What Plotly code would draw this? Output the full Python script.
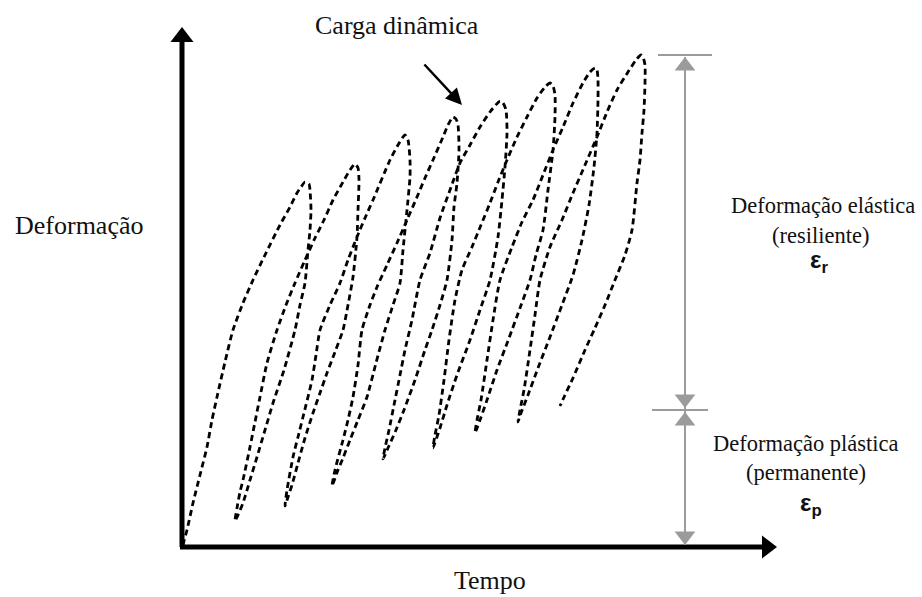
import plotly.graph_objects as go

# ---- dashed deformation curve (time, deformation), one loading / unloading branch per row ----
curve_time = [
    0, 1, 4, 10, 17, 24, 29, 34, 42, 50, 60, 70, 82, 97, 107, 114, 118, 122,
    126, 127, 128, 127, 125, 122, 117, 112, 101, 90, 82, 74, 67, 60, 55, 52,
    54, 57, 60, 67, 72, 77, 84, 94, 103, 112, 122, 132, 141, 150, 160, 167, 172,
    175, 176, 175, 174, 170, 165, 160, 152, 144, 137, 130, 122, 115, 109, 105, 102,
    104, 110, 115, 120, 129, 133, 137, 147, 157, 165, 174, 182, 190, 207, 215, 222,
    225, 227, 227, 224, 220, 217, 210, 202, 193, 184, 175, 167, 160, 155, 149,
    152, 160, 165, 170, 175, 179, 187, 194, 204, 214, 224, 234, 242, 250, 260, 265, 270,
    273, 275, 276, 274, 271, 269, 264, 257, 249, 242, 232, 221, 213, 205, 200,
    202, 206, 212, 217, 222, 229, 237, 247, 257, 267, 277, 287, 297, 307, 317,
    320, 323, 324, 322, 319, 315, 307, 297, 287, 274, 264, 257, 250,
    252, 256, 261, 266, 272, 279, 289, 298, 307, 315, 324, 334, 344, 354, 362, 367,
    370, 372, 372, 370, 365, 360, 353, 347, 337, 326, 314, 304, 297, 292,
    294, 298, 304, 310, 317, 329, 339, 350, 360, 370, 380, 390, 400, 407, 412,
    414, 415, 415, 414, 411, 406, 399, 390, 379, 367, 355, 345, 338, 335,
    337, 341, 347, 352, 357, 367, 379, 390, 402, 414, 424, 434, 445, 453, 458,
    460, 462, 462, 461, 459, 457, 454, 449, 442, 432, 422, 412, 402, 390, 382, 377,
]
curve_deformation = [
    1, 5, 16, 43, 71, 99, 126, 149, 184, 216, 243, 266, 291, 321, 339, 353, 359, 364,
    362, 356, 336, 316, 296, 263, 241, 216, 176, 143, 116, 89, 66, 43, 31, 25,
    38, 54, 66, 99, 124, 149, 183, 216, 241, 263, 286, 308, 326, 346, 364, 376, 382,
    378, 366, 336, 309, 269, 241, 216, 194, 173, 153, 133, 108, 83, 61, 49, 40,
    56, 89, 109, 129, 166, 191, 216, 241, 263, 286, 309, 328, 346, 386, 401, 411,
    406, 386, 369, 336, 296, 263, 241, 216, 183, 149, 126, 106, 88, 76, 60,
    76, 106, 126, 149, 181, 216, 241, 259, 281, 303, 326, 349, 368, 386, 409, 421, 429,
    427, 421, 396, 363, 339, 306, 266, 241, 216, 196, 166, 136, 116, 98, 87,
    98, 116, 146, 171, 196, 226, 266, 293, 328, 356, 383, 401, 419, 434, 445,
    443, 436, 413, 379, 346, 309, 266, 236, 206, 171, 141, 118, 98,
    111, 131, 166, 206, 246, 276, 299, 321, 343, 364, 386, 409, 429, 448, 459, 463,
    460, 451, 429, 396, 356, 316, 291, 266, 238, 208, 176, 146, 126, 113,
    126, 146, 186, 226, 266, 299, 324, 346, 371, 396, 419, 443, 463, 474, 478,
    476, 466, 446, 413, 379, 341, 306, 271, 241, 209, 178, 151, 133, 124,
    136, 156, 196, 231, 266, 299, 326, 353, 381, 409, 434, 456, 474, 486, 491,
    489, 481, 463, 436, 413, 386, 363, 316, 291, 266, 241, 218, 196, 168, 151, 140,
]

# ---- axes arrows ----
axis_x_line = [-3, 580]
axis_x_head = [584]
axis_y_line = [-1, 505]
axis_y_head = [509]

# ---- dimension marks on the right (elastic / plastic parts) ----
dim_x = 502
dim_top, dim_split, dim_bottom = 489, 136, 1
tick_top_x, tick_top_y = [475, 529], 491
tick_mid_x, tick_mid_y = [469, 525], 136

# ---- "Carga dinâmica" pointer ----
pointer_tail = (240, 483)
pointer_tip = (279, 441)

GRAY = "#9b9b9b"
SERIF = "Liberation Serif, Times New Roman, serif"
SANS = "Liberation Sans, Arial, sans-serif"

fig = go.Figure()

fig.add_trace(go.Scatter(
    x=curve_time, y=curve_deformation, mode="lines",
    line=dict(color="black", width=2.8, dash="6px,4px", shape="spline", smoothing=0.6),
    hoverinfo="skip", showlegend=False))

# axes
fig.add_trace(go.Scatter(x=[-1, -1], y=axis_y_line, mode="lines",
                         line=dict(color="black", width=5), hoverinfo="skip", showlegend=False))
fig.add_trace(go.Scatter(x=[-1], y=axis_y_head, mode="markers",
                         marker=dict(symbol="triangle-up", size=20, color="black"),
                         hoverinfo="skip", showlegend=False))
fig.add_trace(go.Scatter(x=axis_x_line, y=[-1, -1], mode="lines",
                         line=dict(color="black", width=5), hoverinfo="skip", showlegend=False))
fig.add_trace(go.Scatter(x=axis_x_head, y=[-1], mode="markers",
                         marker=dict(symbol="triangle-right", size=20, color="black"),
                         hoverinfo="skip", showlegend=False))

# dimension line
fig.add_trace(go.Scatter(x=[dim_x, dim_x], y=[dim_bottom, dim_top], mode="lines",
                         line=dict(color=GRAY, width=2), hoverinfo="skip", showlegend=False))
fig.add_trace(go.Scatter(x=tick_top_x, y=[tick_top_y] * 2, mode="lines",
                         line=dict(color=GRAY, width=2), hoverinfo="skip", showlegend=False))
fig.add_trace(go.Scatter(x=tick_mid_x, y=[tick_mid_y] * 2, mode="lines",
                         line=dict(color=GRAY, width=2), hoverinfo="skip", showlegend=False))
fig.add_trace(go.Scatter(x=[dim_x, dim_x], y=[dim_top - 9, dim_split - 11], mode="markers",
                         marker=dict(symbol="triangle-up", size=18, color=GRAY),
                         hoverinfo="skip", showlegend=False))
fig.add_trace(go.Scatter(x=[dim_x, dim_x], y=[dim_split + 11, dim_bottom + 9], mode="markers",
                         marker=dict(symbol="triangle-down", size=18, color=GRAY),
                         hoverinfo="skip", showlegend=False))

annotations = [
    dict(x=pointer_tip[0], y=pointer_tip[1], ax=pointer_tail[0], ay=pointer_tail[1],
         xref="x", yref="y", axref="x", ayref="y", text="", showarrow=True,
         arrowhead=2, arrowwidth=2.5, arrowsize=1.3, arrowcolor="black"),
    dict(x=214, y=521, text="Carga dinâmica", font=dict(family=SERIF, size=26, color="#111")),
    dict(x=-104, y=321, text="Deformação", font=dict(family=SERIF, size=26, color="#111")),
    dict(x=307, y=-34, text="Tempo", font=dict(family=SERIF, size=26, color="#111")),
    dict(x=640, y=341, text="Deformação elástica", font=dict(family=SERIF, size=22.5, color="#111")),
    dict(x=637, y=311, text="(resiliente)", font=dict(family=SERIF, size=22.5, color="#111")),
    dict(x=636, y=285, text="<b>ε</b><sub><b>r</b></sub>",
         font=dict(family=SANS, size=24, color="#111")),
    dict(x=623, y=103, text="Deformação plástica", font=dict(family=SERIF, size=22.5, color="#111")),
    dict(x=623, y=74, text="(permanente)", font=dict(family=SERIF, size=22.5, color="#111")),
    dict(x=628, y=42, text="<b>ε</b><sub><b>p</b></sub>",
         font=dict(family=SANS, size=24, color="#111")),
]
for a in annotations:
    if not a.get("showarrow"):
        a.update(showarrow=False, xref="x", yref="y", xanchor="center", yanchor="middle")

fig.update_layout(
    width=922, height=597,
    margin=dict(l=0, r=0, t=0, b=0),
    paper_bgcolor="white", plot_bgcolor="white",
    xaxis=dict(range=[-183, 739], visible=False, fixedrange=True),
    yaxis=dict(range=[-51, 546], visible=False, fixedrange=True),
    annotations=annotations,
    showlegend=False,
)

fig.write_html("out.html", config={"displayModeBar": False},
               post_script="document.body.style.margin='0px';")
